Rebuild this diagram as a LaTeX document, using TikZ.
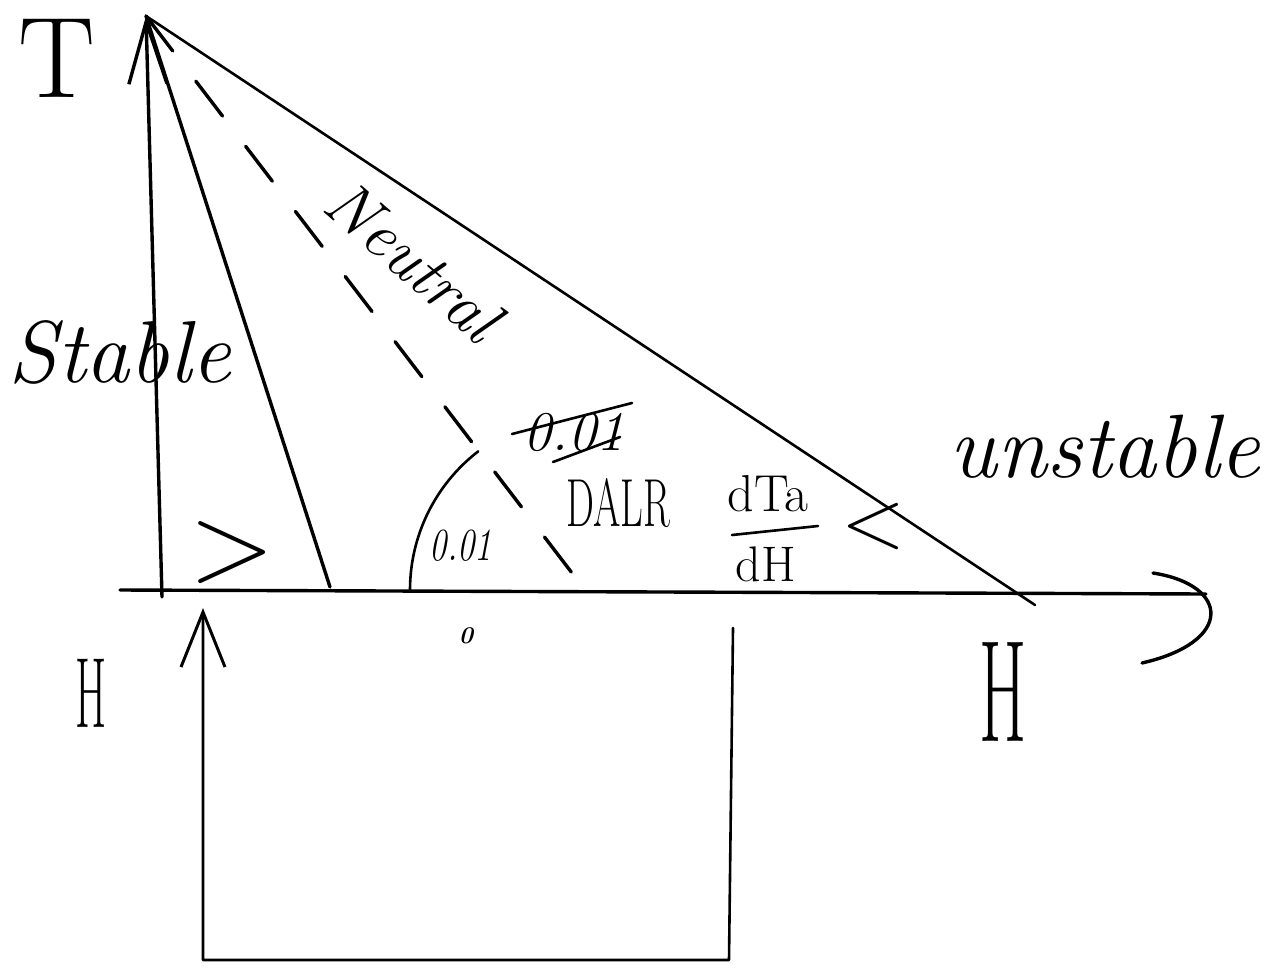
\documentclass[tikz,border=0pt]{standalone}
\usepackage{fontspec}
\usetikzlibrary{arrows.meta}

\tikzset{
  pen/.style={line width=3.4pt, line cap=round, line join=round},
  thin pen/.style={line width=2.6pt, line cap=round, line join=round},
  hand/.style={inner sep=0pt, font=#1},
  hand/.default={\fontsize{60}{60}\selectfont},
  barb/.style={-{Straight Barb[length=62pt,width=38pt,line width=3.4pt]}},
}
\newcommand{\fs}[1]{\fontsize{#1}{#1}\selectfont}

\begin{document}
\begin{tikzpicture}[x=1pt,y=-1pt]
\useasboundingbox (0,0) rectangle (1274,972);

% key points of the lapse-rate sketch
\coordinate (apex)    at (146,16);
\coordinate (tfoot)   at (162,597);
\coordinate (axL)     at (120,590);
\coordinate (axR)     at (1206,594);
\coordinate (stableF) at (330,587);
\coordinate (neutF)   at (585,590);
\coordinate (unstF)   at (1035,605);
\coordinate (hookA)   at (1153,573);
\coordinate (hookB)   at (1142,663);

% temperature axis with its arrow
\draw[pen, barb] (tfoot) -- (apex);
% height axis and the hand-drawn hook at its end
\draw[pen] (axL) -- (axR);
\draw[pen] (hookA) .. controls (1230,585) and (1234,642) .. (hookB);

% stable, neutral (dashed) and unstable profiles
\draw[pen] (apex) -- (stableF);
\draw[pen, dash pattern=on 44pt off 38pt] (apex) -- (neutF);
\draw[thin pen] (apex) -- (unstF);

% angle arc between the neutral line and the axis
\draw[thin pen] (neutF) ++(-175pt,0) arc[start angle=180, end angle=127.6, radius=175pt];

% open box below the axis with an upward arrow
\coordinate (boxTL) at (203,608);
\coordinate (boxBL) at (203,960);
\coordinate (boxBR) at (729,960);
\coordinate (boxTR) at (733,628);
\draw[thin pen, -{Straight Barb[length=55pt,width=44pt,line width=3pt]}]
  (boxTR) -- (boxBR) -- (boxBL) -- (boxTL);

% labels
\node[hand=\fs{115}] (lblT) at (57,58) {T};
\node[hand=\fs{88}\itshape] (lblStable) at (120,352) {Stable};
\node[hand=\fs{66}\itshape, rotate=-41] (lblNeutral) at (414,260) {Neutral};
\node[hand=\fs{56}\itshape] (lblStruck) at (574,432) {0.01};
\draw[thin pen] (512,434) -- (632,403);
\draw[thin pen] (553,462) -- (620,437);
\node[hand=\fs{68}, xscale=0.58, transform shape] (lblDALR) at (618,503) {DALR};
\node[hand=\fs{46}\itshape, xscale=0.75, transform shape] (lblAngle) at (461,546) {0.01};

% rate of change written as a fraction
\node[hand=\fs{52}] (rateTop) at (768,494) {dTa};
\coordinate (barL) at (732,535);
\coordinate (barR) at (818,526);
\draw[thin pen] (barL) -- (barR);
\node[hand=\fs{50}] (rateBot) at (766,564) {dH};

\node[hand=\fs{112}] (lblGt) at (232,553) {>};
\node[hand=\fs{84}] (lblLt) at (873,527) {<};
\node[hand=\fs{90}\itshape] (lblUnstable) at (1105,447) {unstable};
\node[hand=\fs{100}, xscale=0.45, transform shape] (lblHleft) at (91,693) {H};
\node[hand=\fs{145}, xscale=0.47, transform shape] (lblHright) at (1003,692) {H};
\node[hand=\fs{24}\bfseries\itshape] (lblDot) at (466,636) {0};
\end{tikzpicture}
\end{document}
